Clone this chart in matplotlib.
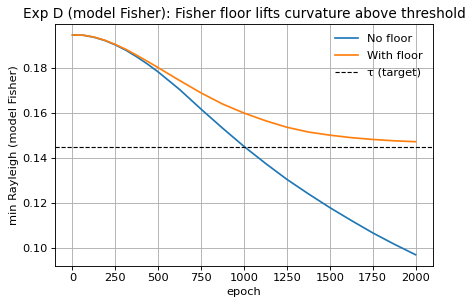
import numpy as np
import matplotlib
matplotlib.use("Agg")
import matplotlib.pyplot as plt

epochs = [0, 62.5, 125, 187.5, 250, 312.5, 375, 437.5, 500, 625, 750, 875, 1000,
          1125, 1250, 1375, 1500, 1625, 1750, 1875, 2000]
no_floor = [0.1946, 0.1945, 0.1936, 0.1922, 0.1902, 0.1878, 0.1849, 0.1817, 0.1782, 0.1704, 0.1617,
            0.1533, 0.1452, 0.1377, 0.1306, 0.1242, 0.1181, 0.1124, 0.1069, 0.1019, 0.0972]
with_floor = [0.1946, 0.1945, 0.1937, 0.1923, 0.1904, 0.1882, 0.1856, 0.1829, 0.1801, 0.1744, 0.1689,
              0.1640, 0.1600, 0.1566, 0.1537, 0.1516, 0.1502, 0.1491, 0.1483, 0.1477, 0.1473]
tau = 0.1449

s = 1.133
plt.rcParams.update({
    "font.size": 10 * s,
    "axes.titlesize": 12 * s,
    "axes.labelsize": 10 * s,
    "xtick.labelsize": 10 * s,
    "ytick.labelsize": 10 * s,
    "legend.fontsize": 10 * s,
    "lines.linewidth": 1.5 * s,
    "axes.linewidth": 0.8 * s,
    "xtick.major.width": 0.8 * s,
    "ytick.major.width": 0.8 * s,
    "xtick.major.size": 3.5 * s,
    "ytick.major.size": 3.5 * s,
})

fig = plt.figure(figsize=(473 / 72, 307 / 72), dpi=72)
ax = fig.add_axes([0.117, 0.1345, 0.7978, 0.7873])

ax.plot(epochs, no_floor, color="#1f77b4", label="No floor")
ax.plot(epochs, with_floor, color="#ff7f0e", label="With floor")
ax.axhline(tau, color="black", linestyle="--", linewidth=1.0 * s, label="τ (target)")

ax.set_xticks([0, 250, 500, 750, 1000, 1250, 1500, 1750, 2000])
ax.set_yticks([0.10, 0.12, 0.14, 0.16, 0.18])
ax.grid(True, color="#b0b0b0", linewidth=0.8 * s)
ax.set_axisbelow(True)
ax.set_xlabel("epoch")
ax.set_ylabel("min Rayleigh (model Fisher)")
ax.set_title("Exp D (model Fisher): Fisher floor lifts curvature above threshold")
ax.legend(loc="upper right", frameon=False, labelspacing=0.6)

fig.savefig("out.png", dpi=72)
